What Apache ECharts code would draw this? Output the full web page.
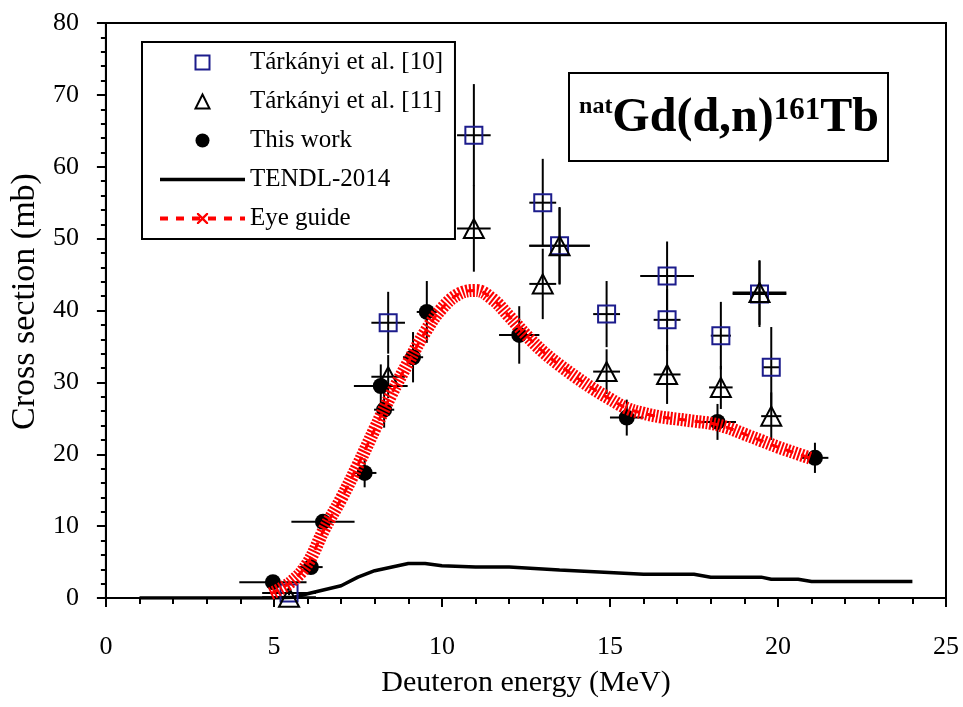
<!DOCTYPE html>
<html>
<head>
<meta charset="utf-8">
<script src="https://cdn.jsdelivr.net/npm/echarts@6/dist/echarts.min.js"></script>
<style>
  html, body { margin: 0; padding: 0; background: #fff; }
  #chart { width: 963px; height: 707px; }
</style>
</head>
<body>
<div id="chart"></div>
<script>
// Tárkányi et al. [10] (squares)
const t10X = [5.45, 8.4, 10.95, 13.0, 13.5, 14.9, 16.7, 16.7, 18.3, 19.45, 19.8]
const t10Y = [0.7, 38.3, 64.4, 55.0, 49.0, 39.5, 44.8, 38.7, 36.5, 42.3, 32.1]
const t10Dx = [0.8, 0.5, 0.5, 0.4, 0.9, 0.4, 0.8, 0.4, 0.3, 0.8, 0.25]
const t10Dy = [0.3, 4.3, 7.1, 6.1, 5.4, 4.6, 4.8, 4.3, 4.7, 4.6, 5.6]

// Tárkányi et al. [11] (triangles)
const t11X = [5.45, 8.4, 10.95, 13.0, 13.5, 14.9, 16.7, 18.3, 19.45, 19.8]
const t11Y = [0.1, 30.8, 51.4, 43.7, 49.0, 31.5, 31.1, 29.3, 42.5, 25.3]
const t11Dx = [0.8, 0.5, 0.5, 0.4, 0.9, 0.4, 0.4, 0.35, 0.8, 0.3]
const t11Dy = [0.2, 3.0, 6.0, 4.9, 5.3, 3.1, 4.1, 3.0, 4.5, 3.3]

// This work (filled circles)
const twX = [4.97, 6.1, 6.46, 7.7, 8.18, 8.28, 9.14, 9.55, 12.3, 15.5, 18.2, 21.1]
const twY = [2.2, 4.3, 10.6, 17.4, 29.5, 26.2, 33.5, 39.8, 36.6, 25.1, 24.5, 19.5]
const twDx = [1.0, 0.35, 0.94, 0.35, 0.8, 0.3, 0.3, 0.3, 0.6, 0.5, 0.55, 0.4]
const twDy = [0.3, 0.5, 0.8, 2.0, 3.0, 2.5, 3.5, 4.3, 4.0, 2.5, 2.5, 2.1]

// TENDL-2014
const tendlX = [1, 2, 3, 4, 5, 5.6, 6, 7, 7.5, 8, 9, 9.5, 10, 11, 12, 13.5, 16, 17.5, 18, 19.5, 19.8, 20.6, 21, 24]
const tendlY = [0, 0, 0, 0, 0, 0.1, 0.6, 1.7, 2.9, 3.8, 4.8, 4.8, 4.5, 4.3, 4.3, 3.9, 3.3, 3.3, 2.9, 2.9, 2.6, 2.6, 2.3, 2.3]

// Eye guide
const eyeX = [4.9, 5.5, 6, 6.5, 7, 7.5, 8, 8.5, 9, 9.5, 10, 10.5, 11, 11.5, 12, 12.5, 13, 13.5, 14, 14.5, 15, 15.5, 16, 16.5, 17, 17.5, 18, 18.5, 19, 19.5, 20, 20.5, 21]
const eyeY = [0.6, 2.2, 4.8, 9.6, 13.8, 18.5, 23.5, 28.4, 32.8, 37.0, 40.3, 42.3, 42.8, 41.6, 39.2, 36.6, 34.3, 32.4, 30.7, 29.1, 27.7, 26.4, 25.7, 25.2, 24.9, 24.6, 24.3, 23.7, 22.8, 21.9, 21.0, 20.2, 19.4]

const xTicks = [0, 25, 5]
const yTicks = [0, 80, 10]

const serif = '"Liberation Serif", "Times New Roman", serif'
const crossPath = 'path://M0,0 L3,0 L10,7 L17,0 L20,0 L20,3 L13,10 L20,17 L20,20 L17,20 L10,13 L3,20 L0,20 L0,17 L7,10 L0,3 Z'
const squarePath = 'path://M0,0 L10,0 L10,10 L0,10 Z'
const trianglePath = 'path://M5,0 L10,10 L0,10 Z'

const zip = (...cols) => cols[0].map((_, i) => cols.map(c => c[i]))

const errorBarItem = (params, api) => {
  const x = api.value(0)
  const y = api.value(1)
  const dx = api.value(2)
  const dy = api.value(3)
  const l = api.coord([x - dx, y])
  const r = api.coord([x + dx, y])
  const t = api.coord([x, y + dy])
  const b = api.coord([x, y - dy])
  const style = { stroke: '#000', lineWidth: 2 }
  return {
    type: 'group',
    children: [
      { type: 'line', shape: { x1: l[0], y1: l[1], x2: r[0], y2: r[1] }, style },
      { type: 'line', shape: { x1: t[0], y1: t[1], x2: b[0], y2: b[1] }, style }
    ]
  }
}

const errorSeries = (xs, ys, dxs, dys) => ({
  type: 'custom',
  renderItem: errorBarItem,
  data: zip(xs, ys, dxs, dys),
  encode: { x: 0, y: 1 },
  clip: true,
  silent: true,
  z: 1
})

const chart = echarts.init(document.getElementById('chart'), null, { renderer: 'canvas' })

const option = {
  animation: false,
  textStyle: { fontFamily: serif, color: '#000' },
  grid: {
    left: 105, right: 17, top: 23, bottom: 109,
    show: true, borderColor: '#000', borderWidth: 2
  },
  xAxis: {
    type: 'value',
    min: xTicks[0], max: xTicks[1], interval: xTicks[2],
    name: 'Deuteron energy (MeV)',
    nameLocation: 'middle',
    nameGap: 70,
    nameTextStyle: { fontSize: 30, fontFamily: serif, color: '#000' },
    axisLine: { lineStyle: { color: '#000', width: 2 } },
    axisTick: { length: 9, lineStyle: { width: 2 } },
    minorTick: { show: true, splitNumber: 5, length: 6, lineStyle: { color: '#000', width: 2 } },
    axisLabel: { fontSize: 26, fontFamily: serif, color: '#000', margin: 36 },
    splitLine: { show: false }
  },
  yAxis: {
    type: 'value',
    min: yTicks[0], max: yTicks[1], interval: yTicks[2],
    name: 'Cross section (mb)',
    nameLocation: 'middle',
    nameGap: 62,
    nameTextStyle: { fontSize: 34, fontFamily: serif, color: '#000', padding: [0, 0, 0, 18] },
    axisLine: { lineStyle: { color: '#000', width: 2 } },
    axisTick: { length: 9, lineStyle: { width: 2 } },
    minorTick: { show: true, splitNumber: 5, length: 5, lineStyle: { color: '#000', width: 2 } },
    axisLabel: { fontSize: 26, fontFamily: serif, color: '#000', margin: 27 },
    splitLine: { show: false }
  },
  legend: {
    orient: 'vertical',
    left: 142,
    top: 42,
    padding: [8, 12, 8, 16],
    borderColor: '#000',
    borderWidth: 2,
    backgroundColor: '#fff',
    itemWidth: 85,
    itemHeight: 14,
    itemGap: 14,
    selectedMode: false,
    textStyle: { fontSize: 25, lineHeight: 25, fontFamily: serif, color: '#000' },
    data: [
      { name: 'Tárkányi et al. [10]', icon: squarePath },
      { name: 'Tárkányi et al. [11]', icon: trianglePath },
      { name: 'This work' },
      { name: 'TENDL-2014', itemStyle: { opacity: 0 }, lineStyle: { width: 3.5 } },
      { name: 'Eye guide', lineStyle: { width: 4 } }
    ]
  },
  graphic: [
    {
      type: 'group',
      left: 568,
      top: 72,
      z: 10,
      children: [
        {
          type: 'rect',
          shape: { x: 0, y: 0, width: 319, height: 88 },
          style: { fill: '#fff', stroke: '#000', lineWidth: 2 }
        },
        {
          type: 'text',
          x: 160,
          y: 46,
          style: {
            text: '{s|nat}{b|Gd(d,n)}{s2|161}{b|Tb}',
            align: 'center',
            verticalAlign: 'middle',
            fontFamily: serif,
            rich: {
              s: { fontSize: 24, fontWeight: 'bold', fontFamily: serif, verticalAlign: 'top', padding: [0, 0, 22, 0] },
              s2: { fontSize: 31, fontWeight: 'bold', fontFamily: serif, verticalAlign: 'top', padding: [0, 0, 16, 0] },
              b: { fontSize: 48, fontWeight: 'bold', fontFamily: serif }
            }
          }
        }
      ]
    }
  ],
  series: [
    errorSeries(t10X, t10Y, t10Dx, t10Dy),
    errorSeries(t11X, t11Y, t11Dx, t11Dy),
    errorSeries(twX, twY, twDx, twDy),
    {
      name: 'TENDL-2014',
      type: 'line',
      data: zip(tendlX, tendlY),
      symbol: 'none',
      lineStyle: { color: '#000', width: 3.5 },
      itemStyle: { color: '#000' },
      z: 2
    },
    {
      name: 'Tárkányi et al. [10]',
      type: 'scatter',
      data: zip(t10X, t10Y),
      symbol: 'rect',
      symbolSize: 17,
      itemStyle: { color: 'rgba(255,255,255,0)', borderColor: '#1c1c8c', borderWidth: 2, opacity: 1 },
      z: 3
    },
    {
      name: 'Tárkányi et al. [11]',
      type: 'scatter',
      data: zip(t11X, t11Y),
      symbol: 'triangle',
      symbolSize: [20, 19],
      itemStyle: { color: 'rgba(255,255,255,0)', borderColor: '#000', borderWidth: 2, opacity: 1 },
      z: 3
    },
    {
      name: 'This work',
      type: 'scatter',
      data: zip(twX, twY),
      symbol: 'circle',
      symbolSize: 16,
      itemStyle: { color: '#000', opacity: 1 },
      z: 3
    },
    {
      // hatched band made by the dense cross markers
      type: 'line',
      data: zip(eyeX, eyeY),
      smooth: 0.4,
      symbol: 'none',
      lineStyle: { color: '#ff0000', width: 13, type: [2, 1.6] },
      silent: true,
      z: 4
    },
    {
      name: 'Eye guide',
      type: 'line',
      data: zip(eyeX, eyeY),
      smooth: 0.4,
      symbol: crossPath,
      showSymbol: false,
      lineStyle: { color: '#ff0000', width: 3, type: [8, 8] },
      itemStyle: { color: '#ff0000' },
      z: 5
    }
  ]
}

chart.setOption(option)
</script>
</body>
</html>
